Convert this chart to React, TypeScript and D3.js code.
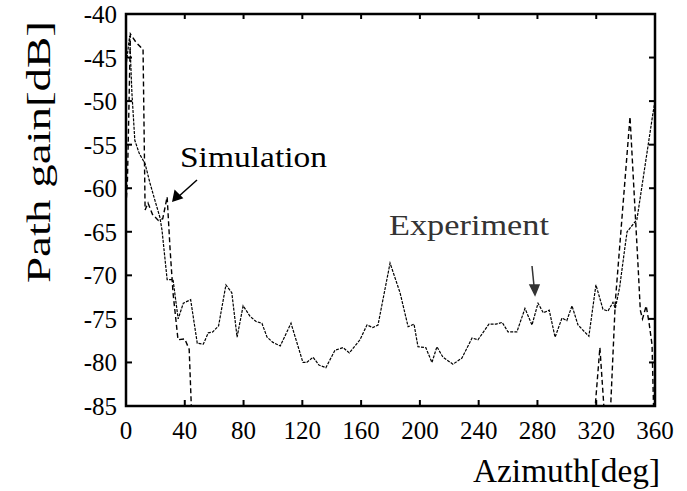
import React from "react";
import * as d3 from "d3";

const expX = [0, 2.5, 4, 6, 9, 13, 16.3, 19.7, 23, 24.5, 28, 32, 35.5, 39, 44, 48.5, 52.6, 56, 59, 63, 68, 72, 75.6, 79.7, 84.4, 88.5, 92.5, 96, 100, 105, 112.3, 120.4, 123, 127.3, 131.3, 136, 142.2, 147.7, 152, 159.2, 164, 168, 171.5, 179.7, 186.5, 192, 196, 198.7, 204, 208.2, 211.6, 215.7, 222.5, 228.6, 235.5, 239.5, 247, 251.8, 256, 260, 266, 271.5, 276.3, 280.4, 284, 288, 292, 296.7, 300, 303.5, 307.6, 315, 319.8, 324.6, 328, 331.4, 333, 336, 339.6, 341, 347.7, 358.6, 360];
const expY = [-46, -42.5, -49, -54.5, -56, -57.2, -59.4, -61.4, -63.3, -64.8, -70.5, -70.5, -75, -73.2, -72.8, -77.8, -77.9, -76.6, -76.5, -75.8, -71.1, -72, -77.1, -73.5, -74.7, -75.3, -75.5, -77.1, -77.7, -78.1, -75.5, -80, -80, -79.4, -80.3, -80.6, -78.6, -78.3, -78.9, -77.4, -75.7, -76, -75.7, -68.6, -72, -75.9, -75.6, -78.2, -78.3, -80, -78.2, -79.4, -80.2, -79.5, -77.2, -77.4, -75.6, -75.6, -75.4, -76.5, -76.5, -73.8, -75.7, -73.2, -74.3, -74, -77.1, -74.9, -75.2, -73.5, -75.7, -77, -71.1, -73.9, -74.1, -73.1, -73.8, -71.3, -66.7, -65, -63.6, -51.4, -50];

const simX = [0, 1, 3, 7, 10, 11.6, 13, 15, 18, 22, 25, 28, 30, 32, 35.4, 40, 43, 46, NaN, 316, 322.5, 328, 333, 343, 348.5, 350, 351.5, 354, 356, 358, 360];
const simY = [-62, -59, -42.3, -43.3, -43.8, -44, -62.5, -61.7, -63, -63.7, -63.5, -61, -67, -72, -77.4, -77.3, -78.5, -92, NaN, -92, -78.3, -92, -73, -51.8, -69, -74, -75, -73.5, -75.5, -78, -92];

const xTicks = [0, 40, 80, 120, 160, 200, 240, 280, 320, 360];
const yTicks = [-40, -45, -50, -55, -60, -65, -70, -75, -80, -85];

const FONT = '"Liberation Serif", "DejaVu Serif Condensed", serif';

export default function App() {
  const x = d3.scaleLinear().domain([0, 360]).range([126, 655]);
  const y = d3.scaleLinear().domain([-85, -40]).range([406, 14]);

  const line = d3
    .line<[number, number]>()
    .defined((d) => !isNaN(d[0]) && !isNaN(d[1]))
    .x((d) => x(d[0]))
    .y((d) => y(d[1]));

  const expData: [number, number][] = expX.map((v, i) => [v, expY[i]]);
  const simData: [number, number][] = simX.map((v, i) => [v, simY[i]]);

  const [x0, x1] = x.range();
  const [y0, y1] = y.range();

  const tf = (size: number): React.CSSProperties => ({ fontFamily: FONT, fontSize: size + "px" });

  return (
    <svg
      width={687}
      height={491}
      style={{ position: "absolute", left: 0, top: 0, background: "#fff" }}
    >
      <defs>
        <clipPath id="plotClip">
          <rect x={x0} y={y1} width={x1 - x0} height={y0 - y1} />
        </clipPath>
      </defs>
      <rect x={0} y={0} width={687} height={491} fill="#fff" />

      <g clipPath="url(#plotClip)" fill="none" stroke="#000">
        <path d={line(simData) || ""} strokeWidth={1.4} strokeDasharray="5,3" />
        <path d={line(expData) || ""} strokeWidth={1.2} strokeDasharray="3,1.2" />
      </g>

      <g stroke="#000" strokeWidth={2}>
        {xTicks.map((t) => (
          <g key={"xt" + t}>
            <line x1={x(t)} x2={x(t)} y1={y0} y2={y0 - 6} />
            <line x1={x(t)} x2={x(t)} y1={y1} y2={y1 + 5} />
          </g>
        ))}
        {yTicks.map((t) => (
          <g key={"yt" + t}>
            <line x1={x0} x2={x0 + 6} y1={y(t)} y2={y(t)} />
            <line x1={x1} x2={x1 - 6} y1={y(t)} y2={y(t)} />
          </g>
        ))}
      </g>

      <rect
        x={x0}
        y={y1}
        width={x1 - x0}
        height={y0 - y1}
        fill="none"
        stroke="#000"
        strokeWidth={2.5}
      />

      <g fill="#000">
        {xTicks.map((t) => (
          <text key={"xl" + t} x={x(t)} y={439} textAnchor="middle" style={tf(25)}>
            {t}
          </text>
        ))}
        {yTicks.map((t) => (
          <text key={"yl" + t} x={117} y={y(t) + 9} textAnchor="end" style={tf(25)}>
            {t}
          </text>
        ))}
      </g>

      <text
        x={0}
        y={0}
        transform="translate(50,152) rotate(-90)"
        textAnchor="middle"
        style={tf(34)}
        textLength={262}
        lengthAdjust="spacingAndGlyphs"
        fill="#000"
      >
        Path gain[dB]
      </text>
      <text
        x={473}
        y={482}
        style={tf(33)}
        textLength={187}
        lengthAdjust="spacingAndGlyphs"
        fill="#000"
      >
        Azimuth[deg]
      </text>

      <text
        x={180}
        y={167}
        style={tf(29)}
        textLength={147}
        lengthAdjust="spacingAndGlyphs"
        fill="#000"
      >
        Simulation
      </text>
      <text
        x={389}
        y={235}
        style={tf(29)}
        textLength={160}
        lengthAdjust="spacingAndGlyphs"
        fill="#333"
      >
        Experiment
      </text>

      <g stroke="#000" strokeWidth={1.5} fill="#000">
        <line x1={197} y1={180} x2={178} y2={197} />
        <path d="M173,201 L175,191 L182,198 Z" />
        <line x1={532} y1={266} x2={534} y2={286} stroke="#333" />
        <path d="M535,295 L530,285 L539,285 Z" fill="#333" stroke="#333" />
      </g>
    </svg>
  );
}
